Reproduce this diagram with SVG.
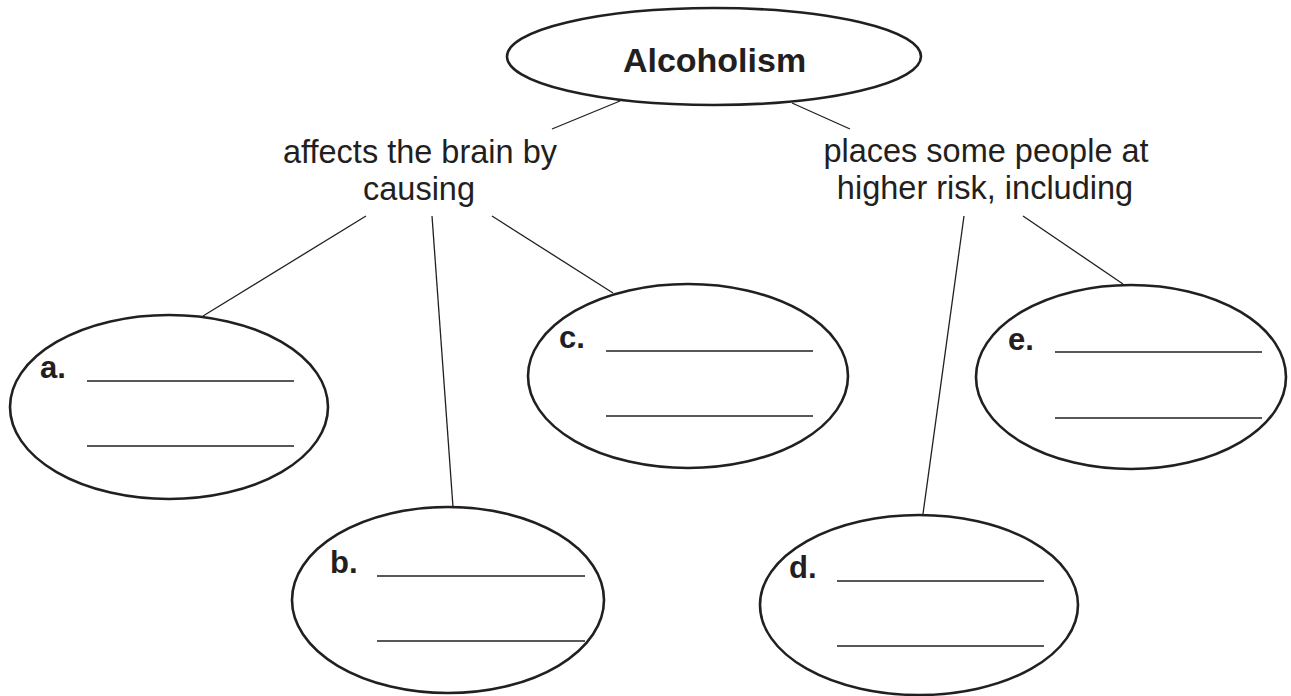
<svg xmlns="http://www.w3.org/2000/svg" width="1291" height="696" viewBox="0 0 1291 696">
<style>
.node{fill:#fff;stroke:#231f20;stroke-width:2.6}
.conn line{stroke:#231f20;stroke-width:1.3}
.blank{stroke:#231f20;stroke-width:1.6}
.lbl{font-family:"Liberation Sans",Arial,sans-serif;font-size:32.5px;fill:#231f20;text-anchor:middle}
.title{font-family:"Liberation Sans",Arial,sans-serif;font-size:34px;font-weight:bold;fill:#231f20;text-anchor:middle}
.let{font-family:"Liberation Sans",Arial,sans-serif;font-size:31px;font-weight:bold;fill:#231f20}
</style>
<rect width="1291" height="696" fill="#fff"/>
<g id="connectors" class="conn">
<line x1="620" y1="101" x2="552" y2="129"/>
<line x1="792" y1="103" x2="850" y2="129"/>
<line x1="366" y1="216" x2="203" y2="316"/>
<line x1="432" y1="216" x2="453" y2="507"/>
<line x1="492" y1="216" x2="613" y2="293"/>
<line x1="964" y1="216" x2="923" y2="514"/>
<line x1="1023" y1="216" x2="1123" y2="284"/>
</g>
<g id="alcoholism">
<ellipse class="node" cx="714" cy="56.5" rx="207" ry="48.5"/>
<text class="title" x="714.5" y="72">Alcoholism</text>
</g>
<g id="label-brain">
<text class="lbl" x="420" y="163">affects the brain by</text>
<text class="lbl" x="419" y="200">causing</text>
</g>
<g id="label-risk">
<text class="lbl" x="986" y="162">places some people at</text>
<text class="lbl" x="985" y="199">higher risk, including</text>
</g>
<g id="node-a">
<ellipse class="node" cx="169" cy="407" rx="159" ry="92"/>
<text class="let" x="40" y="378">a.</text>
<line class="blank" x1="87" y1="381" x2="294" y2="381"/>
<line class="blank" x1="87" y1="446" x2="294" y2="446"/>
</g>
<g id="node-b">
<ellipse class="node" cx="448" cy="600" rx="156" ry="93"/>
<text class="let" x="330" y="573">b.</text>
<line class="blank" x1="377" y1="576" x2="585" y2="576"/>
<line class="blank" x1="377" y1="641" x2="585" y2="641"/>
</g>
<g id="node-c">
<ellipse class="node" cx="688" cy="376" rx="160" ry="92"/>
<text class="let" x="559" y="348">c.</text>
<line class="blank" x1="606" y1="351" x2="813" y2="351"/>
<line class="blank" x1="606" y1="416" x2="813" y2="416"/>
</g>
<g id="node-d">
<ellipse class="node" cx="919" cy="605" rx="159" ry="90"/>
<text class="let" x="789" y="578">d.</text>
<line class="blank" x1="837" y1="581" x2="1044" y2="581"/>
<line class="blank" x1="837" y1="646" x2="1044" y2="646"/>
</g>
<g id="node-e">
<ellipse class="node" cx="1131" cy="377" rx="155" ry="92"/>
<text class="let" x="1008" y="350">e.</text>
<line class="blank" x1="1055" y1="352" x2="1262" y2="352"/>
<line class="blank" x1="1055" y1="418" x2="1262" y2="418"/>
</g>
</svg>
